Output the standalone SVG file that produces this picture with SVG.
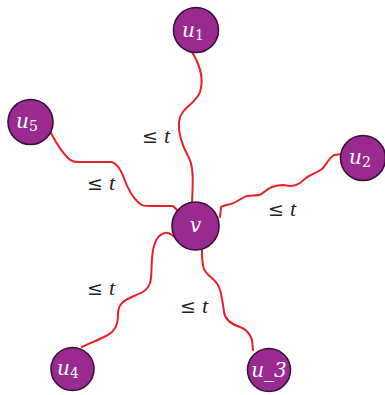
<svg xmlns="http://www.w3.org/2000/svg" width="385" height="395" viewBox="0 0 385 395">
<style>
.node{fill:#9a2a90;stroke:#3a1236;stroke-width:1.6}
.lbl{font-family:"DejaVu Serif","Liberation Serif",serif;font-style:italic;fill:#fff;font-size:20px}
.sub{font-size:14px;font-style:normal}
.edge{fill:none;stroke:#e8202a;stroke-width:2;stroke-linecap:round;stroke-linejoin:round}
.tl{font-family:"DejaVu Serif",serif;font-size:19px;fill:#222}
.tl .it{font-family:"Liberation Serif",serif;font-style:italic;font-size:22px}
</style>
<rect width="385" height="395" fill="#fff"/>
<g id="connectors">
<path class="edge" d="M192,52 C198,62 205,76 200,92 C196,104 180,108 179,122 C178,135 182,145 188,156 C194,166 193,182 192,203"/>
<path class="edge" d="M220,217 L221,207 C224,205 227,205 231,204 C238,202 242,197 247,196 C252,195 255,196 259,195 C264,194 266,189 272,187 C278,185 279,185 283,185 C290,186 294,187 300,183 C304,180 305,178 309,176 C315,173 318,172 322,169 C326,165 329,158 334,155 L342,154"/>
<path class="edge" d="M50,131 C54,138 58,148 68,158 C72,162 75,162 80,162 L112,162 C118,164 121,170 124,178 C127,187 131,196 139,203 C142,206 145,206 150,206 L173,206 L178,211"/>
<path class="edge" d="M82,347 C88,344 96,341 106,336 C116,331 118,324 118,314 C118,304 124,300 134,296 C144,292 150,289 151,278 C152,268 151,256 154,246 C156,238 160,234 165,233 C170,232 174,236 178,241"/>
<path class="edge" d="M202,250 C202,258 202,267 205,271 C209,277 216,280 219,287 C222,295 223,305 224,312 C225,320 231,324 240,327 C246,329 250,334 252,340 L253,350"/>
</g>
<g id="u1"><circle class="node" cx="196" cy="30" r="22.5"/><text class="lbl" x="182" y="37">u<tspan class="sub" dy="3">1</tspan></text></g>
<g id="u2"><circle class="node" cx="363" cy="158" r="22.5"/><text class="lbl" x="349" y="164">u<tspan class="sub" dy="3">2</tspan></text></g>
<g id="u5"><circle class="node" cx="30.5" cy="122" r="22.5"/><text class="lbl" x="16" y="128">u<tspan class="sub" dy="3">5</tspan></text></g>
<g id="v"><ellipse class="node" cx="195.5" cy="226" rx="23.5" ry="24"/><text class="lbl" x="195.5" y="232" text-anchor="middle">v</text></g>
<g id="u4"><circle class="node" cx="72.5" cy="369" r="21.5"/><text class="lbl" x="57" y="375">u<tspan class="sub" dy="3">4</tspan></text></g>
<g id="u3"><circle class="node" cx="269" cy="370" r="21.5"/><text class="lbl" x="269" y="377" text-anchor="middle" font-size="21">u_3</text></g>
<g id="labels">
<text class="tl" x="142" y="143">≤ <tspan class="it">t</tspan></text>
<text class="tl" x="87" y="190">≤ <tspan class="it">t</tspan></text>
<text class="tl" x="268" y="216">≤ <tspan class="it">t</tspan></text>
<text class="tl" x="87" y="295">≤ <tspan class="it">t</tspan></text>
<text class="tl" x="180" y="313">≤ <tspan class="it">t</tspan></text>
</g>
</svg>
